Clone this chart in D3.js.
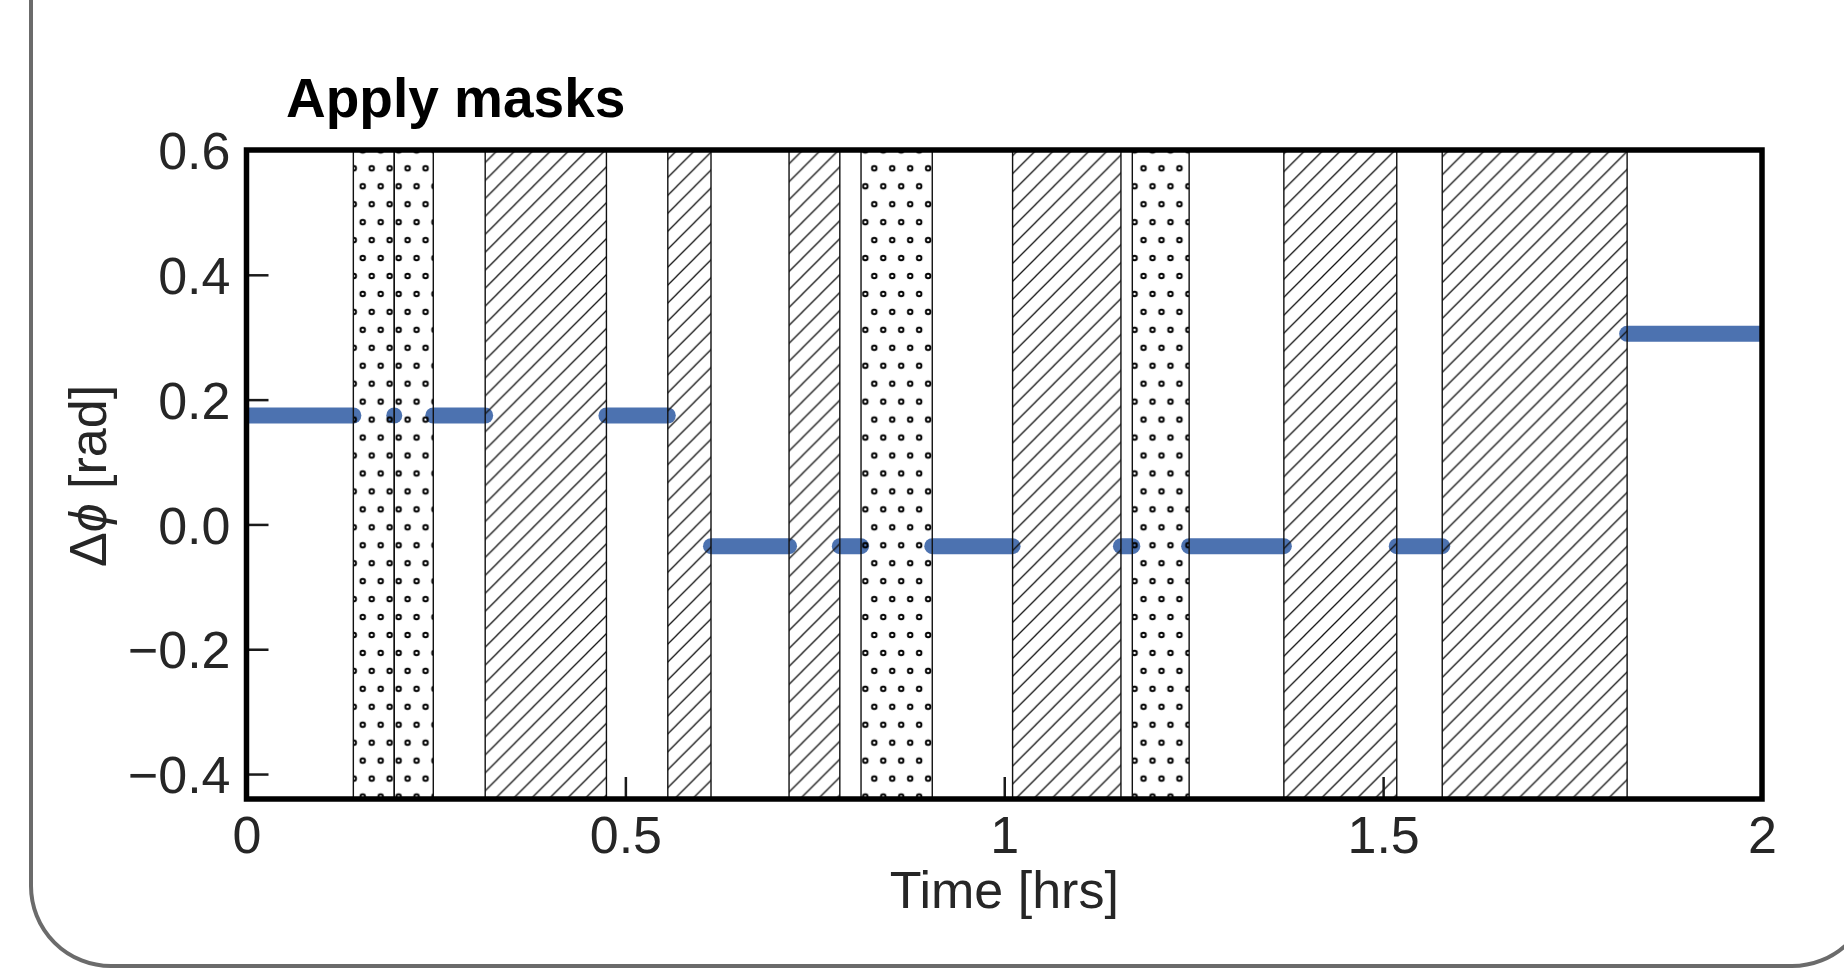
<!DOCTYPE html>
<html>
<head>
<meta charset="utf-8">
<script src="https://cdn.jsdelivr.net/npm/d3@7"></script>
<style>
  html, body { margin: 0; padding: 0; background: #fff; }
  svg { display: block; }
  text { font-family: "Liberation Sans", Arial, Helvetica, sans-serif; }
</style>
</head>
<body>
<script>
// Axis ticks
const timeTicks = [0, 0.5, 1, 1.5, 2];
const timeTickLabels = ["0", "0.5", "1", "1.5", "2"];
const phaseTicks = [-0.4, -0.2, 0, 0.2, 0.4, 0.6];
const phaseTickLabels = ["\u22120.4", "\u22120.2", "0.0", "0.2", "0.4", "0.6"];

// Masked intervals [hrs]: dotted and hatched spans
const dottedStart = [0.141, 0.195, 0.811, 1.169];
const dottedEnd   = [0.195, 0.2465, 0.905, 1.244];
const hatchedStart = [0.315, 0.556, 0.716, 1.011, 1.369, 1.578];
const hatchedEnd   = [0.475, 0.613, 0.783, 1.154, 1.518, 1.822];

// Unmasked phase-offset segments: start, end [hrs] and value [rad]
const segStart = [0, 0.195, 0.2465, 0.475, 0.613, 0.783, 0.905, 1.154, 1.244, 1.518, 1.822];
const segEnd   = [0.141, 0.195, 0.315, 0.556, 0.716, 0.811, 1.011, 1.169, 1.369, 1.578, 2];
const segPhase = [0.1745, 0.1745, 0.1745, 0.1745, -0.0349, -0.0349, -0.0349, -0.0349, -0.0349, -0.0349, 0.3054];

const W = 1844, H = 968;
const plotL = 246.5, plotR = 1762, plotT = 150, plotB = 799;

const svg = d3.select("body").append("svg")
  .attr("width", W).attr("height", H)
  .attr("viewBox", `0 0 ${W} ${H}`);

svg.append("rect").attr("width", W).attr("height", H).attr("fill", "#fff");

// Rounded panel outline
svg.append("rect")
  .attr("x", 31).attr("y", -200)
  .attr("width", 1872 - 31).attr("height", 966 + 200)
  .attr("rx", 80).attr("ry", 80)
  .attr("fill", "none").attr("stroke", "#6b6b6b").attr("stroke-width", 4);

const x = d3.scaleLinear().domain([0, 2]).range([plotL, plotR]);
const y = d3.scaleLinear().domain([-0.44, 0.6]).range([plotB, plotT]);

// Hatch patterns, anchored to one shared grid
const P = 17.95, ox = 371.7, oy = 168.3;
const defs = svg.append("defs");

const hatch = defs.append("pattern")
  .attr("id", "hatch").attr("patternUnits", "userSpaceOnUse")
  .attr("x", ox).attr("y", oy).attr("width", P).attr("height", P);
hatch.append("path")
  .attr("d", `M0,${P} L${P},0 M${-P/2},${P/2} L${P/2},${-P/2} M${P/2},${1.5*P} L${1.5*P},${P/2}`)
  .attr("stroke", "#111").attr("stroke-width", 1.3).attr("fill", "none");

const dots = defs.append("pattern")
  .attr("id", "dots").attr("patternUnits", "userSpaceOnUse")
  .attr("x", ox).attr("y", oy).attr("width", P).attr("height", 2 * P);
[[0, 0], [P, 0], [0, 2 * P], [P, 2 * P], [P / 2, P]].forEach(([cx, cy]) => {
  dots.append("circle").attr("cx", cx).attr("cy", cy).attr("r", 2.3)
    .attr("fill", "none").attr("stroke", "#000").attr("stroke-width", 1.9);
});

defs.append("clipPath").attr("id", "plotClip")
  .append("rect").attr("x", plotL).attr("y", plotT)
  .attr("width", plotR - plotL).attr("height", plotB - plotT);

const plot = svg.append("g").attr("clip-path", "url(#plotClip)");

// Phase offset outside the masks
const line = d3.line().x(d => x(d[0])).y(d => y(d[1]));
plot.append("g").selectAll("path")
  .data(segStart.map((s, i) => [[s, segPhase[i]], [segEnd[i], segPhase[i]]]))
  .join("path")
  .attr("d", line)
  .attr("fill", "none")
  .attr("stroke", "#4C72B0")
  .attr("stroke-width", 16)
  .attr("stroke-linecap", "round");

// Masked spans
plot.append("g").selectAll("rect")
  .data(dottedStart.map((s, i) => [s, dottedEnd[i]]))
  .join("rect")
  .attr("x", d => x(d[0])).attr("width", d => x(d[1]) - x(d[0]))
  .attr("y", y(0.6)).attr("height", y(-0.44) - y(0.6))
  .attr("fill", "url(#dots)").attr("stroke", "#111").attr("stroke-width", 1.4);

plot.append("g").selectAll("rect")
  .data(hatchedStart.map((s, i) => [s, hatchedEnd[i]]))
  .join("rect")
  .attr("x", d => x(d[0])).attr("width", d => x(d[1]) - x(d[0]))
  .attr("y", y(0.6)).attr("height", y(-0.44) - y(0.6))
  .attr("fill", "url(#hatch)").attr("stroke", "#111").attr("stroke-width", 1.4);

// Axes with inward ticks
const xAxis = d3.axisBottom(x).tickValues(timeTicks)
  .tickFormat((d, i) => timeTickLabels[i])
  .tickSizeInner(-22).tickSizeOuter(0).tickPadding(17);
const yAxis = d3.axisLeft(y).tickValues(phaseTicks)
  .tickFormat((d, i) => phaseTickLabels[i])
  .tickSizeInner(-22).tickSizeOuter(0).tickPadding(16);

const gx = svg.append("g").attr("transform", `translate(0,${plotB})`).call(xAxis);
const gy = svg.append("g").attr("transform", `translate(${plotL},0)`).call(yAxis);
[gx, gy].forEach(g => {
  g.select(".domain").remove();
  g.selectAll(".tick line").attr("stroke", "#1a1a1a").attr("stroke-width", 2.5);
  g.selectAll(".tick text")
    .attr("fill", "#262626")
    .style("font-size", "52px")
    .style("font-family", "'Liberation Sans', Arial, sans-serif");
});
gy.selectAll(".tick text").attr("dy", "0.36em");

// Frame
svg.append("rect")
  .attr("x", plotL).attr("y", plotT)
  .attr("width", plotR - plotL).attr("height", plotB - plotT)
  .attr("fill", "none").attr("stroke", "#000").attr("stroke-width", 5.5);

// Labels
svg.append("text")
  .attr("x", 286).attr("y", 117)
  .attr("fill", "#000")
  .style("font-size", "55px").style("font-weight", "bold")
  .text("Apply masks");

svg.append("text")
  .attr("x", (plotL + plotR) / 2).attr("y", 908)
  .attr("text-anchor", "middle")
  .attr("fill", "#262626")
  .style("font-size", "52px")
  .text("Time [hrs]");

const yl = svg.append("text")
  .attr("transform", "translate(106,476) rotate(-90)")
  .attr("text-anchor", "middle")
  .attr("fill", "#262626")
  .style("font-size", "52px");
yl.append("tspan").text("\u0394");
yl.append("tspan").style("font-style", "italic").text("\u03D5");
yl.append("tspan").text(" [rad]");
</script>
</body>
</html>
